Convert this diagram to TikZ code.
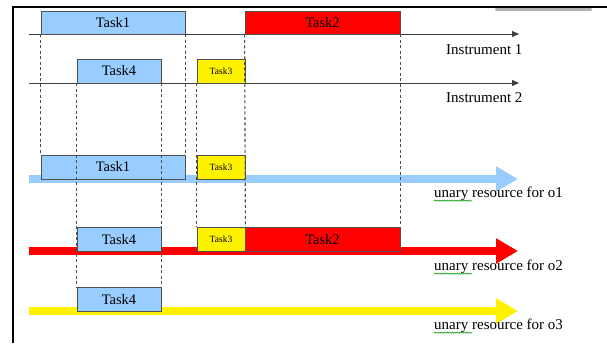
\documentclass[tikz,border=0pt]{standalone}
\usepackage{fontspec}
\setmainfont{Liberation Serif}
\usetikzlibrary{arrows.meta,decorations.pathmorphing}
\definecolor{taskblue}{RGB}{153,204,255}
\definecolor{boxline}{RGB}{80,80,80}

\begin{document}
\begin{tikzpicture}[x=1pt, y=-1pt,
    taskbox/.style={draw=boxline, line width=0.8pt, minimum height=24pt, inner sep=0pt, font=\fontsize{14.5}{16}\selectfont},
    smallbox/.style={taskbox, font=\fontsize{9.5}{11}\selectfont},
    guide/.style={draw=black!70, line width=1.1pt, dash pattern=on 3pt off 2.5pt},
    instraxis/.style={draw=black!75, line width=1pt, -{Triangle[length=7pt,width=6pt]}},
    resource/.style={line width=8pt, -{Triangle[length=22pt,width=24pt]}},
    axislabel/.style={anchor=west, inner sep=0pt, font=\fontsize{15}{17}\selectfont}]
        \useasboundingbox[fill=white] (0,0) rectangle (607,343);
        % Frame
        \draw[line width=1.5pt] (13,343) -- (13,7) -- (607,7);
        \draw[gray!60, line width=2.5pt, line cap=round] (496,9.5) -- (591,9.5);

        % Axis ends
        \coordinate (I1s) at (29,34);  \coordinate (I1e) at (519,34);
        \coordinate (I2s) at (29,83);  \coordinate (I2e) at (519,83);
        \coordinate (R1s) at (29,179); \coordinate (R1e) at (518,179);
        \coordinate (R2s) at (29,251); \coordinate (R2e) at (518,251);
        \coordinate (R3s) at (29,311); \coordinate (R3e) at (518,311);

        % Axes
        \draw[resource, taskblue] (R1s) -- (R1e);
        \draw[resource, red] (R2s) -- (R2e);
        \draw[resource, yellow] (R3s) -- (R3e);
        \draw[instraxis] (I1s) -- (I1e);
        \draw[instraxis] (I2s) -- (I2e);

        % Nodes
        \node[taskbox, fill=taskblue, minimum width=144pt, minimum height=23pt] (T1i) at (113,22.5) {Task1};
        \node[taskbox, fill=red, minimum width=155pt, minimum height=23pt] (T2i) at (322.5,22.5) {Task2};
        \node[taskbox, fill=taskblue, minimum width=84pt] (T4i) at (119,71) {Task4};
        \node[smallbox, fill=yellow, minimum width=48pt] (T3i) at (221,71) {Task3};
        \node[taskbox, fill=taskblue, minimum width=144pt] (T1a) at (113,167) {Task1};
        \node[smallbox, fill=yellow, minimum width=48pt] (T3a) at (221,167) {Task3};
        \node[taskbox, fill=taskblue, minimum width=84pt] (T4b) at (119,239.5) {Task4};
        \node[smallbox, fill=yellow, minimum width=48pt] (T3b) at (221,239.5) {Task3};
        \node[taskbox, fill=red, minimum width=155pt] (T2b) at (322.5,239.5) {Task2};
        \node[taskbox, fill=taskblue, minimum width=84pt] (T4c) at (119,299.5) {Task4};

        \node[axislabel] (LI1) at (446,50) {Instrument 1};
        \node[axislabel] (LI2) at (446,98) {Instrument 2};
        \node[axislabel] (LR1) at (434,194) {unary resource for o1};
        \node[axislabel] (LR2) at (434,267) {unary resource for o2};
        \node[axislabel] (LR3) at (434,326) {unary resource for o3};

        % Edges
        \draw[guide] (T1i.south west) -- (T1a.north west);
        \draw[guide] (T1i.south east) -- (T1a.north east);
        \draw[guide] (T4i.south west) -- (T4c.north west);
        \draw[guide] (T4i.south east) -- (T4c.north east);
        \draw[guide] (T3i.south west) -- (T3b.north west);
        \draw[guide] (T2i.south west) -- (T3b.north east);
        \draw[guide] (T2i.south east) -- (T2b.north east);

        % spell-check marks
        \foreach \lbl in {LR1,LR2,LR3}
            \draw[green!60!black, line width=0.5pt, decorate, decoration={snake, amplitude=0.6pt, segment length=2.5pt}]
                ([yshift=-3pt]\lbl.base west) -- ++(38,0);
    \end{tikzpicture}
\end{document}
